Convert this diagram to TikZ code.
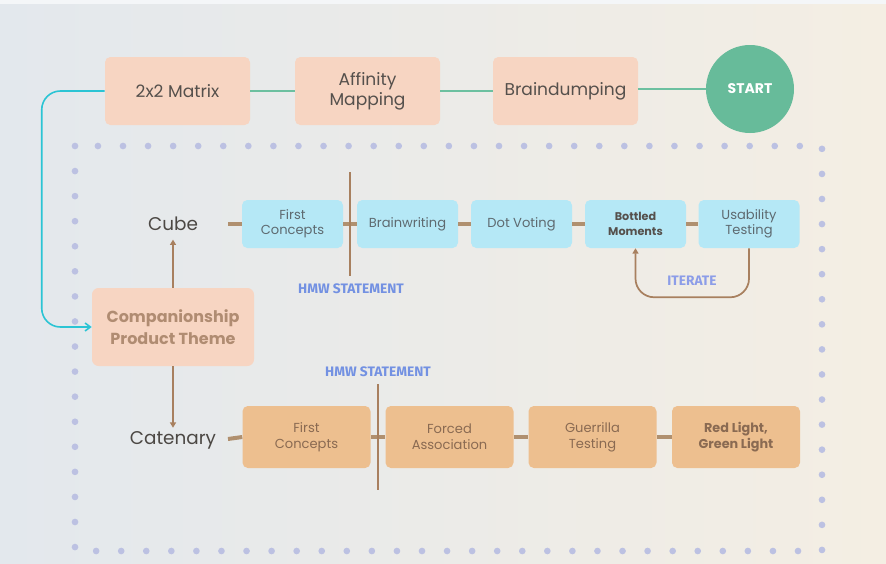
\documentclass[tikz,border=0pt]{standalone}
\usepackage{fontspec}
\setmainfont{Poppins}
\newfontfamily\hmwfont{Fira Sans}
\usetikzlibrary{arrows.meta}
\definecolor{peach}{HTML}{F7D5C2}
\definecolor{cyanbox}{HTML}{B5E8F6}
\definecolor{catbox}{HTML}{EDBF8F}
\definecolor{greenline}{HTML}{6CC0A0}
\definecolor{startgreen}{HTML}{67BB9A}
\definecolor{cyanline}{HTML}{2BC4D4}
\definecolor{brown}{HTML}{A8805F}
\definecolor{brownline}{HTML}{B0906F}
\definecolor{dotcol}{HTML}{BCC1E2}
\definecolor{hmwblue}{HTML}{7391E2}
\definecolor{iterblue}{HTML}{8C9DE8}
\definecolor{darktext}{HTML}{55504C}
\definecolor{graytext}{HTML}{5E6A70}
\definecolor{cattext}{HTML}{8A6A52}
\definecolor{comptext}{HTML}{B08C72}
\definecolor{bgleft}{HTML}{E3E8ED}
\definecolor{bgright}{HTML}{F4EEE3}
\tikzset{
  topbox/.style={fill=peach, rounded corners=4pt, minimum width=108.75pt, minimum height=51pt, align=center, text=darktext, font=\fontsize{12.8}{15}\selectfont},
  cubebox/.style={fill=cyanbox, rounded corners=4pt, minimum width=75.75pt, minimum height=36pt, align=center, text=graytext, font=\fontsize{9.8}{11.5}\selectfont},
  catbox/.style={fill=catbox, rounded corners=4pt, minimum width=96pt, minimum height=46.5pt, align=center, text=cattext, font=\fontsize{9.8}{11.8}\selectfont},
  greenconn/.style={draw=greenline, line width=1.2pt},
  conn/.style={draw=brownline, line width=3pt},
  vline/.style={draw=brown, line width=1.3pt},
  arr/.style={draw=brown, line width=1.3pt, -{Triangle[length=4pt,width=4.5pt]}},
  rowlabel/.style={text=darktext!90!black, font=\fontsize{13.8}{16}\selectfont},
  hmw/.style={text=hmwblue, font=\hmwfont\bfseries\fontsize{10.3}{12}\selectfont},
  dotline/.style={draw=dotcol, line width=5pt, line cap=round, dash pattern=on 0pt off 18.8pt}
}
\begin{document}
\begin{tikzpicture}[x=0.75pt,y=-0.75pt]
\useasboundingbox (0,0) rectangle (886,564);
\shade[left color=bgleft, right color=bgright] (0,0) rectangle (886,564);
\fill[white!60!bgleft] (0,0) rectangle (886,4);
% dotted frame
\draw[dotline] (75,146) rectangle (822,551);
% top row
\node[topbox] (m2) at (177.5,91) {2x2 Matrix};
\node[topbox] (aff) at (367.5,91) {Affinity\\Mapping};
\node[topbox] (bd) at (565.5,91) {Braindumping};
\node[circle, fill=startgreen, minimum size=66pt, text=white, font=\bfseries\fontsize{10.5}{12}\selectfont] (start) at (750,89) {START};
\draw[greenconn] (m2.east) -- (aff.west);
\draw[greenconn] (aff.east) -- (bd.west);
\draw[greenconn] ([yshift=1.5pt]bd.east) -- ([yshift=1.5pt]bd.east -| start.west);
% theme
\node[fill=peach, rounded corners=5pt, minimum width=121.5pt, minimum height=58.5pt, align=center, text=comptext, font=\bfseries\fontsize{12}{16.5}\selectfont] (comp) at (173,327) {Companionship\\Product Theme};
\draw[draw=cyanline, line width=1.2pt, rounded corners=14pt, -{Straight Barb[length=4pt,width=6pt]}] (m2.west) -- ++(-63,0) |- (comp.west);
\node[rowlabel] (cube) at (173,224) {Cube};
\node[rowlabel] (cat) at (173,440) {Catenary};
\draw[arr] (comp.north) -- ([yshift=-3pt]cube.south);
\draw[arr] (comp.south) -- ([yshift=-1pt]cat.north);
% cube row
\node[cubebox] (c1) at (292.5,224) {First\\Concepts};
\node[cubebox] (c2) at (407.5,224) {Brainwriting};
\node[cubebox] (c3) at (521.5,224) {Dot Voting};
\node[cubebox, font=\bfseries\fontsize{8.4}{11}\selectfont, text=darktext] (c4) at (635.5,224) {Bottled\\Moments};
\node[cubebox] (c5) at (749,224) {Usability\\Testing};
\coordinate (cs) at (228,224);
\draw[conn] (cs) -- (c1.west);
\draw[conn] (c1.east) -- (c2.west);
\draw[conn] (c2.east) -- (c3.west);
\draw[conn] (c3.east) -- (c4.west);
\draw[conn] (c4.east) -- (c5.west);
\coordinate (h1t) at (350,172);
\coordinate (h1b) at (350,276);
\draw[vline] (h1t) -- (h1b);
\node[hmw] (hmw1) at (351,289) {HMW STATEMENT};
\draw[draw=brown, line width=1.3pt, rounded corners=14pt, -{Triangle[length=4pt,width=4.5pt]}] (c5.south) -- ++(0,49) -| (c4.south);
\node[hmw, text=iterblue] (it) at (692,281) {ITERATE};
% catenary row
\node[catbox] (k1) at (306.5,437) {First\\Concepts};
\node[catbox] (k2) at (449.5,437) {Forced\\Association};
\node[catbox] (k3) at (592.5,437) {Guerrilla\\Testing};
\node[catbox, font=\bfseries\fontsize{9.6}{11.5}\selectfont] (k4) at (736,437) {Red Light,\\Green Light};
\coordinate (ks) at (228,439);
\draw[conn] (ks) -- (k1.west);
\draw[conn] (k1.east) -- (k2.west);
\draw[conn] (k2.east) -- (k3.west);
\draw[conn] (k3.east) -- (k4.west);
\coordinate (h2t) at (378,384);
\coordinate (h2b) at (378,490);
\draw[vline] (h2t) -- (h2b);
\node[hmw] (hmw2) at (378,372) {HMW STATEMENT};
\end{tikzpicture}
\end{document}
